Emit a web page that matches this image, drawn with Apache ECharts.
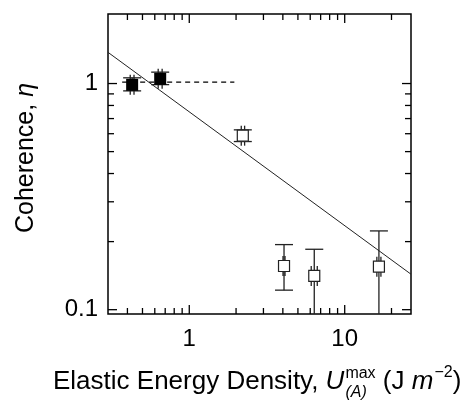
<!DOCTYPE html>
<html>
<head>
<meta charset="utf-8">
<script src="https://cdn.jsdelivr.net/npm/echarts@6/dist/echarts.min.js"></script>
<style>
  html, body { margin: 0; padding: 0; background: #fff; }
  #chart { width: 470px; height: 401px; }
</style>
</head>
<body>
<div id="chart"></div>
<script>
// data points (x = U max, y = coherence)
const ptX = [0.429, 0.65, 2.21, 4.07, 6.37, 16.6];
const ptY = [0.987, 1.049, 0.588, 0.156, 0.141, 0.155];
const xLow = [0.417, 0.631, 2.16, 4.01, 6.09, 16.1];
const xHigh = [0.441, 0.669, 2.27, 4.13, 6.66, 17.1];
const yLow = [0.928, 0.989, 0.554, 0.122, 0.05, 0.05];
const yHigh = [1.06, 1.123, 0.624, 0.194, 0.185, 0.223];
const ptFilled = [true, true, false, false, false, false];

// dashed reference line at eta ~ 1 and power-law fit
const dashX = [0.37, 1.95];
const dashY = [1.015, 1.015];
const fitX = [0.3, 26.7];
const fitY = [1.374, 0.1435];

// axis ranges and ticks
const xRange = [0.3, 26.7];
const yRange = [0.0957, 2.03];
const xMajorTicks = [1, 10];
const xMinorTicks = [0.4, 0.5, 0.6, 0.7, 0.8, 0.9, 2, 3, 4, 5, 6, 7, 8, 9, 20];
const yMajorTicks = [0.1, 1];
const yMinorTicks = [0.2, 0.3, 0.4, 0.5, 0.6, 0.7, 0.8, 0.9];
const xTickLabels = ["1", "10"];
const yTickLabels = ["0.1", "1"];

const FONT = '"Liberation Sans", Arial, Helvetica, sans-serif';
const chart = echarts.init(document.getElementById("chart"));

const measureCtx = document.createElement("canvas").getContext("2d");
function textWidth(text, size, italic) {
  measureCtx.font = (italic ? "italic " : "") + size + "px " + FONT;
  return measureCtx.measureText(text).width;
}

function near(v, list) {
  return list.findIndex((t) => Math.abs(Math.log10(v) - Math.log10(t)) < 0.01);
}

// x axis title with stacked super/subscript
function xTitle() {
  const els = [];
  let x = 53;
  const yMid = 382;
  const big = 26;
  const small = 16;
  function put(text, size, italic, y) {
    els.push({
      type: "text", x: x, y: y,
      style: { text: text, fontSize: size, fontFamily: FONT, fontStyle: italic ? "italic" : "normal", fill: "#000", verticalAlign: "middle" }
    });
    return textWidth(text, size, italic);
  }
  x += put("Elastic Energy Density, ", big, false, yMid);
  x += put("U", big, true, yMid) + 1;
  const w1 = put("max", small, false, yMid - 8);
  const w2 = put("(A)", small, true, yMid + 11);
  x += Math.max(w1, w2);
  x += put(" (J ", big, false, yMid);
  x += put("m", big, true, yMid) + 1;
  x += put("\u22122", small, false, yMid - 9);
  put(")", big, false, yMid);
  return els;
}

function tickSeries(values, isX) {
  return {
    type: "custom",
    silent: true,
    z: 5,
    data: values.map((v) => (isX ? [v, 1] : [1, v])),
    renderItem: function (params, api) {
      const cs = params.coordSys;
      const v = api.value(isX ? 0 : 1);
      const major = near(v, isX ? xMajorTicks : yMajorTicks) >= 0;
      const len = major ? 9 : 6;
      const p = api.coord([api.value(0), api.value(1)]);
      const style = { stroke: "#000", lineWidth: 1.3 };
      if (isX) {
        const b = cs.y + cs.height;
        return { type: "group", children: [
          { type: "line", shape: { x1: p[0], y1: b, x2: p[0], y2: b - len }, style: style },
          { type: "line", shape: { x1: p[0], y1: cs.y, x2: p[0], y2: cs.y + len }, style: style }
        ] };
      }
      const r = cs.x + cs.width;
      return { type: "group", children: [
        { type: "line", shape: { x1: cs.x, y1: p[1], x2: cs.x + len, y2: p[1] }, style: style },
        { type: "line", shape: { x1: r, y1: p[1], x2: r - len, y2: p[1] }, style: style }
      ] };
    }
  };
}

const errData = ptX.map((x, i) => [x, ptY[i], xLow[i], xHigh[i], yLow[i], yHigh[i]]);

const errorSeries = {
  type: "custom",
  silent: true,
  z: 3,
  data: errData,
  renderItem: function (params, api) {
    const cs = params.coordSys;
    const bottom = cs.y + cs.height;
    const c = api.coord([api.value(0), api.value(1)]);
    const lo = api.coord([api.value(0), api.value(4)]);
    const hi = api.coord([api.value(0), api.value(5)]);
    const xl = api.coord([api.value(2), api.value(1)]);
    const xh = api.coord([api.value(3), api.value(1)]);
    const yl = Math.min(lo[1], bottom);
    const style = { stroke: "#222", lineWidth: 1.3 };
    const capW = 9;
    const capH = 10;
    const kids = [
      { type: "line", shape: { x1: c[0], y1: yl, x2: c[0], y2: hi[1] }, style: style },
      { type: "line", shape: { x1: c[0] - capW, y1: hi[1], x2: c[0] + capW, y2: hi[1] }, style: style },
      { type: "line", shape: { x1: xl[0], y1: c[1], x2: xh[0], y2: c[1] }, style: style },
      { type: "line", shape: { x1: xl[0], y1: c[1] - capH, x2: xl[0], y2: c[1] + capH }, style: style },
      { type: "line", shape: { x1: xh[0], y1: c[1] - capH, x2: xh[0], y2: c[1] + capH }, style: style }
    ];
    if (lo[1] < bottom) {
      kids.push({ type: "line", shape: { x1: c[0] - capW, y1: lo[1], x2: c[0] + capW, y2: lo[1] }, style: style });
    }
    return { type: "group", children: kids };
  }
};

const filledPts = ptX.map((x, i) => [x, ptY[i]]).filter((_, i) => ptFilled[i]);
const openPts = ptX.map((x, i) => [x, ptY[i]]).filter((_, i) => !ptFilled[i]);

chart.setOption({
  animation: false,
  backgroundColor: "#fff",
  grid: { left: 108, right: 59, top: 14, bottom: 87, show: true, borderColor: "#000", borderWidth: 1.5, backgroundColor: "transparent" },
  xAxis: {
    type: "log", logBase: 10, min: xRange[0], max: xRange[1],
    axisLine: { show: false }, axisTick: { show: false }, splitLine: { show: false }, minorTick: { show: false },
    axisLabel: {
      fontSize: 24, fontFamily: FONT, color: "#000", margin: 13,
      showMinLabel: true, showMaxLabel: true,
      formatter: (v) => { const k = near(v, xMajorTicks); return k >= 0 ? xTickLabels[k] : ""; }
    }
  },
  yAxis: {
    type: "log", logBase: 10, min: yRange[0], max: yRange[1],
    axisLine: { show: false }, axisTick: { show: false }, splitLine: { show: false }, minorTick: { show: false },
    axisLabel: {
      fontSize: 24, fontFamily: FONT, color: "#000", margin: 10,
      formatter: (v) => { const k = near(v, yMajorTicks); return k >= 0 ? yTickLabels[k] : ""; }
    }
  },
  graphic: {
    elements: [
      {
        type: "text", x: 26, y: 158, rotation: Math.PI / 2,
        style: {
          text: "{a|Coherence, }{b|\u03b7}", align: "center", verticalAlign: "middle",
          rich: {
            a: { fontSize: 25, fontFamily: FONT, fill: "#000" },
            b: { fontSize: 25, fontFamily: FONT, fontStyle: "italic", fill: "#000" }
          }
        }
      }
    ].concat(xTitle())
  },
  series: [
    {
      type: "line", data: fitX.map((x, i) => [x, fitY[i]]), showSymbol: false, silent: true, z: 2,
      lineStyle: { color: "#222", width: 1 }
    },
    {
      type: "line", data: dashX.map((x, i) => [x, dashY[i]]), showSymbol: false, silent: true, z: 2,
      lineStyle: { color: "#000", width: 1.3, type: [5, 4] }
    },
    errorSeries,
    {
      type: "scatter", data: filledPts, symbol: "rect", symbolSize: 12, silent: true, z: 4,
      itemStyle: { color: "#000", opacity: 1 }
    },
    {
      type: "scatter", data: openPts, symbol: "rect", symbolSize: 11, silent: true, z: 4,
      itemStyle: { color: "#fff", borderColor: "#222", borderWidth: 1.2, opacity: 1 }
    },
    tickSeries(xMajorTicks.concat(xMinorTicks), true),
    tickSeries(yMajorTicks.concat(yMinorTicks), false)
  ]
});
</script>
</body>
</html>
